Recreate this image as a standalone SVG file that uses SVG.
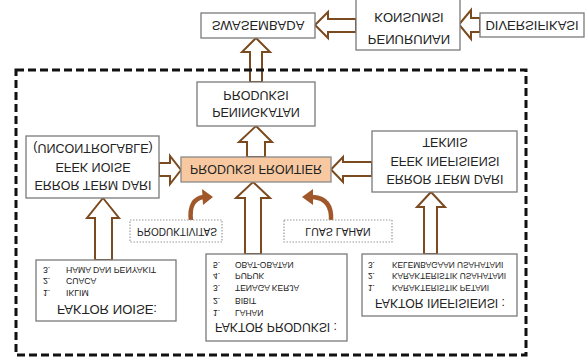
<svg xmlns="http://www.w3.org/2000/svg" width="588" height="358" viewBox="0 0 588 358">
<defs>
<style>
.box{fill:#fff;stroke:#7a7a7a;stroke-width:1.3}
.dot{fill:#fff;stroke:#9a9a9a;stroke-width:1.2;stroke-dasharray:1.5,1.5}
.arr{fill:#fff;stroke:#7b4a1e;stroke-width:2;stroke-linejoin:miter}
.t{font-family:"Liberation Sans",Arial,sans-serif;fill:#222;text-anchor:middle}
.l{font-family:"Liberation Sans",Arial,sans-serif;fill:#222;text-anchor:start}
.cv{fill:none;stroke:#a0582a;stroke-width:4.5;stroke-linecap:butt}
.ch{fill:#a0582a}
</style>
</defs>
<rect width="588" height="358" fill="#fff"/>

<g id="connectors">
<polygon class="arr" points="459,24.5 471,10 471,18 480,18 480,32 471,32 471,39"/>
<polygon class="arr" points="315,25 328,12 328,19 356,19 356,32 328,32 328,38"/>
<polygon class="arr" points="256,38 270,52 262,52 262,82 250,82 250,52 242,52"/>
<polygon class="arr" points="256,126 272,142 265,142 265,157 247,157 247,142 239,142"/>
<polygon class="arr" points="181,170 170,184 170,176 159,176 159,163 170,163 170,156"/>
<polygon class="arr" points="331,169.5 343,157 343,162 372,162 372,176 343,176 343,182"/>
<polygon class="arr" points="103,198 119,218 112,218 112,260 95,260 95,218 87,218"/>
<polygon class="arr" points="253,182 270,198 261,198 261,254 245,254 245,198 236,198"/>
<polygon class="arr" points="431,192 445,207 437,207 437,254 424,254 424,207 417,207"/>
<path class="cv" d="M191,221 C189,206 194,198 204,197"/>
<polygon class="ch" points="213,197 202,189 203,205"/>
<path class="cv" d="M331,221 C332,206 326,198 313,197"/>
<polygon class="ch" points="302,197 313,189 313,205"/>
</g>

<rect x="16" y="70" width="510" height="285" fill="none" stroke="#111" stroke-width="3" stroke-dasharray="8,4"/>

<g id="swasembada">
<rect class="box" x="201" y="13" width="114" height="25"/>
<g transform="scale(1,-1)"><text class="t" x="258" y="-21" font-size="13">SWASEMBADA</text></g>
</g>

<g id="penurunan">
<rect class="box" x="356" y="-3" width="104" height="53"/>
<g transform="scale(1,-1)">
<text class="t" x="409" y="-13" font-size="13">KONSUMSI</text>
<text class="t" x="409" y="-35" font-size="13">PENURUNAN</text>
</g>
</g>

<g id="diversifikasi">
<rect class="box" x="480" y="13" width="104" height="24"/>
<g transform="scale(1,-1)"><text class="t" x="532" y="-21" font-size="13">DIVERSIFIKASI</text></g>
</g>

<g id="peningkatan">
<rect class="box" x="197" y="82" width="118" height="44"/>
<g transform="scale(1,-1)">
<text class="t" x="256" y="-91" font-size="12.5">PRODUKSI</text>
<text class="t" x="256" y="-108" font-size="12.5">PENINGKATAN</text>
</g>
</g>

<g id="frontier">
<rect x="181" y="157" width="150" height="25" fill="#f8c9a1" stroke="#8a8a8a" stroke-width="1.3"/>
<g transform="scale(1,-1)"><text class="t" x="256" y="-165" font-size="12.5" textLength="132" lengthAdjust="spacingAndGlyphs">PRODUKSI FRONTIER</text></g>
</g>

<g id="error-noise">
<rect class="box" x="26" y="136" width="133" height="62"/>
<g transform="scale(1,-1)">
<text class="t" x="93" y="-144" font-size="12.5">(UNCONTROLABLE)</text>
<text class="t" x="93" y="-163" font-size="12.5">EFEK NOISE</text>
<text class="t" x="93" y="-181" font-size="12.5">ERROR TERM DARI</text>
</g>
</g>

<g id="error-inefisiensi">
<rect class="box" x="372" y="131" width="145" height="61"/>
<g transform="scale(1,-1)">
<text class="t" x="445" y="-138" font-size="12.5">TEKNIS</text>
<text class="t" x="445" y="-157" font-size="12.5">EFEK INEFISIENSI</text>
<text class="t" x="445" y="-175" font-size="12.5">ERROR TERM DARI</text>
</g>
</g>

<g id="produktivitas">
<rect class="dot" x="130" y="220" width="92" height="22"/>
<g transform="scale(1,-1)"><text class="t" x="177" y="-228" font-size="10">PRODUKTIVITAS</text></g>
</g>

<g id="luas-lahan">
<rect class="dot" x="284" y="220" width="108" height="22"/>
<g transform="scale(1,-1)"><text class="t" x="338" y="-228" font-size="10.5">LUAS LAHAN</text></g>
</g>

<g id="faktor-noise">
<rect class="box" x="36" y="260" width="140" height="61"/>
<g transform="scale(1,-1)">
<text class="l" x="43" y="-267" font-size="8.7">3.</text><text class="l" x="66" y="-267" font-size="8.7">HAMA DAN PENYAKIT</text>
<text class="l" x="43" y="-278" font-size="8.7">2.</text><text class="l" x="66" y="-278" font-size="8.7">CUACA</text>
<text class="l" x="43" y="-290" font-size="8.7">1.</text><text class="l" x="66" y="-290" font-size="8.7">IKLIM</text>
<text class="t" x="107" y="-305" font-size="13" textLength="100" lengthAdjust="spacingAndGlyphs">FAKTOR  NOISE:</text>
</g>
</g>

<g id="faktor-produksi">
<rect class="box" x="206" y="254" width="141" height="87"/>
<g transform="scale(1,-1)">
<text class="l" x="213" y="-262" font-size="8.5">5.</text><text class="l" x="235" y="-262" font-size="8.5">OBAT-OBATAN</text>
<text class="l" x="213" y="-273" font-size="8.5">4.</text><text class="l" x="235" y="-273" font-size="8.5">PUPUK</text>
<text class="l" x="213" y="-285" font-size="8.5">3.</text><text class="l" x="235" y="-285" font-size="8.5">TENAGA KERJA</text>
<text class="l" x="213" y="-298" font-size="8.5">2.</text><text class="l" x="235" y="-298" font-size="8.5">BIBIT</text>
<text class="l" x="213" y="-310" font-size="8.5">1.</text><text class="l" x="235" y="-310" font-size="8.5">LAHAN</text>
<text class="l" x="215" y="-323" font-size="13.5" textLength="122" lengthAdjust="spacingAndGlyphs">FAKTOR PRODUKSI :</text>
</g>
</g>

<g id="faktor-inefisiensi">
<rect class="box" x="362" y="254" width="155" height="62"/>
<g transform="scale(1,-1)">
<text class="l" x="368" y="-262" font-size="8.3">3.</text><text class="l" x="392" y="-262" font-size="8.3">KELEMBAGAAN USAHATANI</text>
<text class="l" x="368" y="-273" font-size="8.3">2.</text><text class="l" x="392" y="-273" font-size="8.3">KARAKTERISTIK USAHATANI</text>
<text class="l" x="368" y="-285" font-size="8.3">1.</text><text class="l" x="392" y="-285" font-size="8.3">KARAKTERISTIK PETANI</text>
<text class="l" x="375" y="-299" font-size="12.5" textLength="130" lengthAdjust="spacingAndGlyphs">FAKTOR INEFISIENSI :</text>
</g>
</g>
</svg>
